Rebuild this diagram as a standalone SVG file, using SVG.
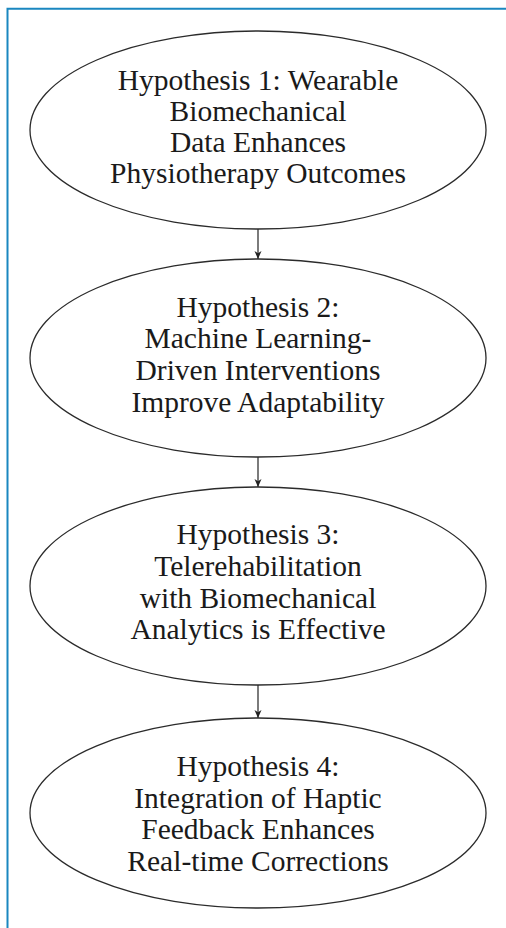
<svg xmlns="http://www.w3.org/2000/svg" width="506" height="928" viewBox="0 0 506 928">
<style>
.node ellipse{fill:#ffffff;stroke:#2b2b2b;stroke-width:1.3}
.node text{font-family:"Liberation Serif","Times New Roman",serif;font-size:29.5px;fill:#1a1a1a;text-anchor:middle}
.edge{stroke:#444;stroke-width:1.4;fill:none}
.frame{stroke:#1a87c0;stroke-width:2;fill:none}
</style>
<defs>
<marker id="arr" markerWidth="9" markerHeight="9" refX="8" refY="4.5" orient="auto" markerUnits="userSpaceOnUse">
<path d="M0,1 L8,4.5 L0,8 L2.2,4.5 Z" fill="#222"/>
</marker>
</defs>
<rect width="506" height="928" fill="#ffffff"/>
<path class="frame" d="M7.5,928 V8.8 H506"/>
<g id="connectors">
<line class="edge" x1="258" y1="229" x2="258" y2="259" marker-end="url(#arr)"/>
<line class="edge" x1="258" y1="457" x2="258" y2="487" marker-end="url(#arr)"/>
<line class="edge" x1="258" y1="685" x2="258" y2="718" marker-end="url(#arr)"/>
</g>
<g id="h1" class="node">
<ellipse cx="258" cy="130" rx="228" ry="99"/>
<text x="258" y="89.5">Hypothesis 1: Wearable</text>
<text x="258" y="120.7">Biomechanical</text>
<text x="258" y="152">Data Enhances</text>
<text x="258" y="183">Physiotherapy Outcomes</text>
</g>
<g id="h2" class="node">
<ellipse cx="258" cy="358" rx="228" ry="99"/>
<text x="258" y="316.7">Hypothesis 2:</text>
<text x="258" y="348">Machine Learning-</text>
<text x="258" y="380">Driven Interventions</text>
<text x="258" y="412">Improve Adaptability</text>
</g>
<g id="h3" class="node">
<ellipse cx="258" cy="586" rx="228" ry="99"/>
<text x="258" y="544.3">Hypothesis 3:</text>
<text x="258" y="576">Telerehabilitation</text>
<text x="258" y="607.5">with Biomechanical</text>
<text x="258" y="639">Analytics is Effective</text>
</g>
<g id="h4" class="node">
<ellipse cx="258" cy="813" rx="228" ry="95"/>
<text x="258" y="776">Hypothesis 4:</text>
<text x="258" y="807.7">Integration of Haptic</text>
<text x="258" y="839.3">Feedback Enhances</text>
<text x="258" y="870.7">Real-time Corrections</text>
</g>
</svg>
